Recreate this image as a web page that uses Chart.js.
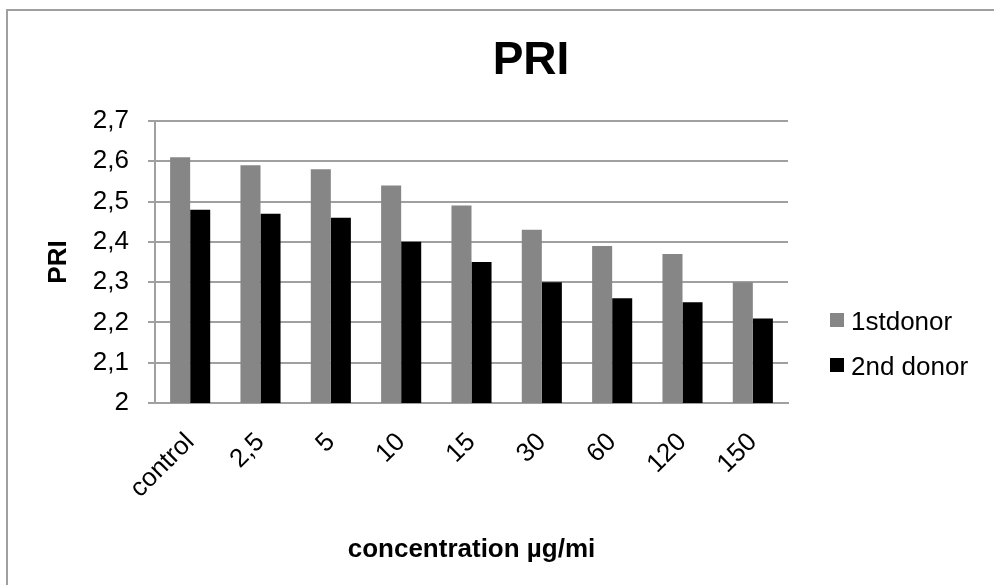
<!DOCTYPE html>
<html>
<head>
<meta charset="utf-8">
<script src="https://cdn.jsdelivr.net/npm/chart.js@4"></script>
<style>
  body { margin: 0; background: #fff; }
  canvas { display: block; }
</style>
</head>
<body>
<canvas id="priChart" width="994" height="585"></canvas>
<script>
const categories = ['control', '2,5', '5', '10', '15', '30', '60', '120', '150'];
const firstDonor = [2.61, 2.59, 2.58, 2.54, 2.49, 2.43, 2.39, 2.37, 2.30];
const secondDonor = [2.48, 2.47, 2.46, 2.40, 2.35, 2.30, 2.26, 2.25, 2.21];
const seriesNames = ['1stdonor', '2nd donor'];
const seriesColors = ['#868686', '#000000'];

const FONT = '"Liberation Sans", Arial, sans-serif';

// frame, title and legend drawn on the canvas
const decor = {
    id: 'decor',
    beforeDraw(chart) {
        const c = chart.ctx;
        c.save();
        c.fillStyle = '#fff';
        c.fillRect(0, 0, chart.width, chart.height);
        c.strokeStyle = '#a0a0a0';
        c.lineWidth = 2;
        c.beginPath();
        c.moveTo(chart.width, 10);
        c.lineTo(7, 10);
        c.lineTo(7, chart.height);
        c.stroke();
        c.restore();
    },
    afterDraw(chart) {
        const c = chart.ctx;
        c.save();
        c.fillStyle = '#000';
        c.font = 'bold 46px ' + FONT;
        c.textAlign = 'center';
        c.textBaseline = 'middle';
        c.fillText('PRI', 531, 61);

        c.font = '26px ' + FONT;
        c.textAlign = 'left';
        chart.data.datasets.forEach((ds, i) => {
            const y = 320 + i * 45;
            c.fillStyle = ds.backgroundColor;
            c.fillRect(830, y - 7, 14, 14);
            c.fillStyle = '#000';
            c.fillText(ds.label, 851, y + 3);
        });
        c.restore();
    }
};

const ctx = document.getElementById('priChart').getContext('2d');
const priChart = new Chart(ctx, {
    type: 'bar',
    data: {
        labels: categories,
        datasets: [{
            label: seriesNames[0],
            data: firstDonor,
            backgroundColor: seriesColors[0],
            categoryPercentage: 0.57,
            barPercentage: 1
        }, {
            label: seriesNames[1],
            data: secondDonor,
            backgroundColor: seriesColors[1],
            categoryPercentage: 0.57,
            barPercentage: 1
        }]
    },
    options: {
        responsive: false,
        animation: false,
        layout: { padding: { top: 121, right: 206, left: 0, bottom: 0 } },
        plugins: {
            legend: { display: false },
            tooltip: { enabled: false }
        },
        scales: {
            x: {
                grid: { display: false },
                border: { display: true, color: '#a0a0a0', width: 2 },
                ticks: {
                    color: '#000',
                    font: { family: FONT, size: 26 },
                    maxRotation: 45,
                    minRotation: 45,
                    padding: 16
                },
                title: {
                    display: true,
                    text: 'concentration µg/mi',
                    color: '#000',
                    font: { family: FONT, size: 26, weight: 'bold' },
                    padding: { top: 0, bottom: 20 }
                },
                afterFit(scale) { scale.height = 182; }
            },
            y: {
                min: 2,
                max: 2.7,
                ticks: {
                    stepSize: 0.1,
                    color: '#000',
                    font: { family: FONT, size: 26 },
                    padding: 19,
                    callback: v => String(Math.round(v * 10) / 10).replace('.', ',')
                },
                grid: { color: '#a0a0a0', lineWidth: 2, tickLength: 7 },
                border: { color: '#a0a0a0', width: 2 },
                title: {
                    display: true,
                    text: 'PRI',
                    color: '#000',
                    font: { family: FONT, size: 26, weight: 'bold' },
                    padding: { top: 43, bottom: 0 }
                },
                afterFit(scale) { scale.width = 155; }
            }
        }
    },
    plugins: [decor]
});
</script>
</body>
</html>
